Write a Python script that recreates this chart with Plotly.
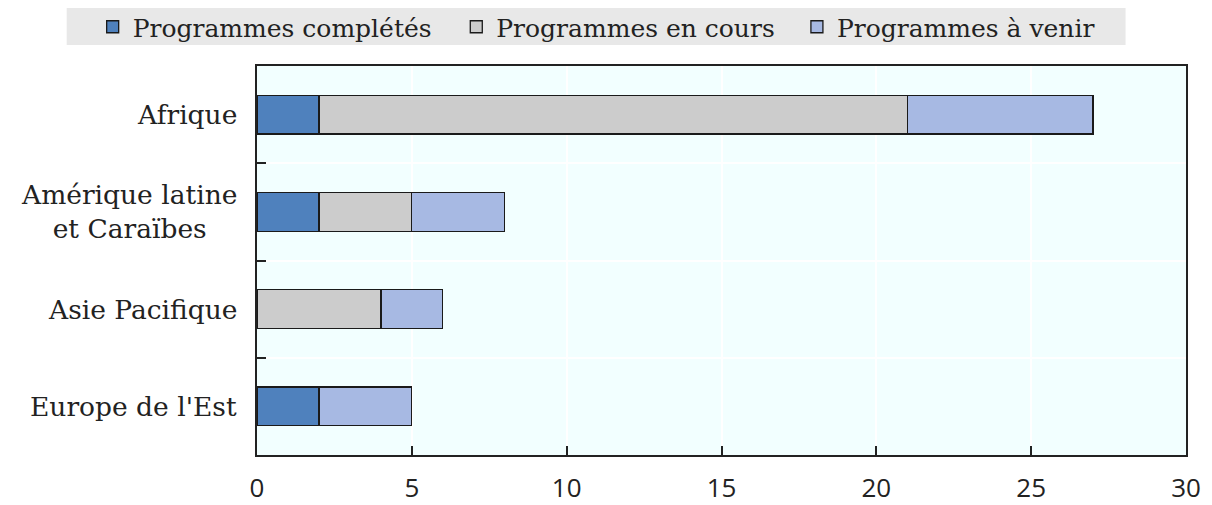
import plotly.graph_objects as go

categories = ["Afrique", "Amérique latine<br>et Caraïbes", "Asie Pacifique", "Europe de l'Est"]
series_names = ["Programmes complétés", "Programmes en cours", "Programmes à venir"]
completes = [2, 2, 0, 2]
en_cours = [19, 3, 4, 0]
a_venir = [6, 3, 2, 3]
colors = ["#4F81BD", "#CCCCCC", "#A7B9E3"]
x_ticks = [0, 5, 10, 15, 20, 25, 30]

SERIF = "DejaVu Serif"
SANS = "Open Sans"
TXT = "#222222"

# page body has an 8px margin (top/left); figure fills the rest of the window
OFF = 8
W, H = 1212 - OFF, 505 - OFF
px0, px1, py0, py1 = 256.5 - OFF, 1186.5 - OFF, 66 - OFF, 455 - OFF
L, T = px0, py0
R, B = W - px1, H - py1
pw, ph = px1 - px0, py1 - py0

def paper_x(page_x):
    return (page_x - OFF - px0) / pw

def paper_y(page_y):
    return (py1 - (page_y - OFF)) / ph

legend_ids = ["legend", "legend2", "legend3"]
legend_left = [92, 456, 797]  # page x of each legend box

fig = go.Figure()
for name, vals, col, lid in zip(series_names, [completes, en_cours, a_venir], colors, legend_ids):
    fig.add_trace(go.Bar(
        y=categories, x=vals, name=name, orientation="h", legend=lid,
        marker=dict(color=col, line=dict(color="#1a1a1a", width=1.3)),
    ))

annotations = [
    dict(text=c, x=0, xref="paper", xanchor="right", xshift=-18,
         y=c, yref="y", yanchor="middle", align="center", showarrow=False,
         font=dict(family=SERIF, size=26.5, color=TXT))
    for c in categories
]

legend_layouts = {
    lid: dict(
        orientation="h", xref="paper", x=paper_x(lx), xanchor="left",
        yref="paper", y=paper_y(27), yanchor="middle",
        bgcolor="rgba(0,0,0,0)", itemwidth=30,
        font=dict(family=SERIF, size=25, color=TXT),
    )
    for lid, lx in zip(legend_ids, legend_left)
}

fig.update_layout(
    width=W, height=H,
    barmode="stack", bargap=0.6,
    margin=dict(l=L, r=R, t=T, b=B, autoexpand=False),
    paper_bgcolor="white", plot_bgcolor="#F2FFFF",
    font=dict(family=SERIF, size=25, color=TXT),
    showlegend=True,
    shapes=[dict(
        type="rect", xref="paper", yref="paper", layer="below",
        x0=paper_x(66), x1=paper_x(1126),
        y0=paper_y(45), y1=paper_y(8),
        fillcolor="#E8E8E8", line=dict(width=0),
    )],
    annotations=annotations,
    **legend_layouts,
)
fig.update_xaxes(
    range=[0, 30], tickvals=x_ticks, ticks="inside", ticklen=9, tickwidth=1.5,
    tickcolor=TXT, showgrid=True, gridcolor="white", gridwidth=1.5,
    showline=True, linecolor=TXT, linewidth=2, mirror=True,
    zeroline=False, ticklabelstandoff=9,
    tickfont=dict(family=SANS, size=26, color=TXT),
)
fig.update_yaxes(
    autorange=False, range=[3.5, -0.5], categoryorder="array", categoryarray=categories,
    tickson="boundaries", ticks="inside", ticklen=9, tickwidth=1.5, tickcolor=TXT,
    showgrid=True, gridcolor="white", gridwidth=1.5,
    showline=True, linecolor=TXT, linewidth=2, mirror=True,
    showticklabels=False,
)

fig.write_html("out.html")
